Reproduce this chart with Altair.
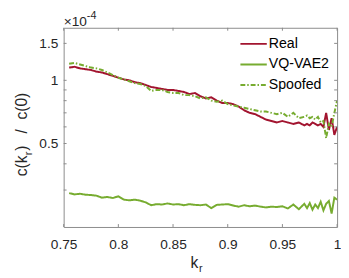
import altair as alt
import pandas as pd

k = [0.755, 0.76, 0.765, 0.77, 0.775, 0.78, 0.785, 0.79, 0.795, 0.80,
     0.805, 0.81, 0.815, 0.82, 0.825, 0.83, 0.835, 0.84, 0.845, 0.85,
     0.855, 0.86, 0.865, 0.87, 0.875, 0.88, 0.885, 0.89, 0.895, 0.90,
     0.905, 0.91, 0.915, 0.92, 0.925, 0.93, 0.935, 0.94, 0.945, 0.95,
     0.955, 0.96, 0.965, 0.97, 0.9725, 0.975, 0.9775, 0.98, 0.9825, 0.985,
     0.9875, 0.99, 0.9925, 0.995, 0.9975, 1.0]

real = [1.15, 1.16, 1.14, 1.13, 1.12, 1.10, 1.09, 1.07, 1.05, 1.03,
        1.01, 1.00, 0.98, 0.97, 0.95, 0.93, 0.92, 0.91, 0.90, 0.90,
        0.89, 0.88, 0.86, 0.87, 0.84, 0.82, 0.83, 0.80, 0.78, 0.78,
        0.77, 0.75, 0.72, 0.70, 0.69, 0.67, 0.65, 0.64, 0.63, 0.64,
        0.63, 0.62, 0.63, 0.61, 0.62, 0.61, 0.63, 0.62, 0.61, 0.62,
        0.60, 0.70, 0.58, 0.66, 0.55, 0.60]

vqvae2 = [0.290, 0.286, 0.288, 0.285, 0.284, 0.282, 0.276, 0.278, 0.275, 0.280,
          0.270, 0.268, 0.270, 0.267, 0.262, 0.254, 0.257, 0.256, 0.259, 0.256,
          0.257, 0.254, 0.257, 0.255, 0.254, 0.256, 0.246, 0.255, 0.256, 0.257,
          0.253, 0.250, 0.254, 0.251, 0.253, 0.250, 0.248, 0.250, 0.249, 0.251,
          0.245, 0.256, 0.243, 0.258, 0.246, 0.260, 0.242, 0.256, 0.246, 0.264,
          0.240, 0.258, 0.266, 0.232, 0.276, 0.270]

spoofed = [1.20, 1.21, 1.19, 1.17, 1.15, 1.14, 1.12, 1.09, 1.06, 1.03,
           1.01, 0.99, 0.97, 0.96, 0.94, 0.89, 0.90, 0.90, 0.88, 0.87,
           0.87, 0.85, 0.85, 0.84, 0.82, 0.83, 0.80, 0.79, 0.80, 0.77,
           0.76, 0.75, 0.74, 0.73, 0.72, 0.71, 0.71, 0.70, 0.69, 0.70,
           0.67, 0.70, 0.66, 0.67, 0.68, 0.66, 0.67, 0.65, 0.67, 0.63,
           0.64, 0.53, 0.62, 0.60, 0.70, 0.80]

series_names = ["Real", "VQ-VAE2", "Spoofed"]
series_colors = ["#A2142F", "#77AC30", "#77AC30"]
series_dash = [[1, 0], [1, 0], [5, 2, 1.5, 2]]

x_ticks = [0.75, 0.8, 0.85, 0.9, 0.95, 1.0]
y_labels = [0.5, 1, 1.5]
y_minor = [0.3, 0.4, 0.5, 0.6, 0.7, 0.8, 0.9, 1.0, 1.5]

rows = []
for name, vals in zip(series_names, [real, vqvae2, spoofed]):
    for kk, v in zip(k, vals):
        rows.append({"k": kk, "v": v, "series": name})
df = pd.DataFrame(rows)

W, H = 280, 204
FONT = "Liberation Sans"
TXT = "#262626"
BOX = "#8a8a8a"

xscale = alt.Scale(domain=[0.75, 1.0], nice=False, zero=False)
yscale = alt.Scale(type="log", domain=[0.2, 1.78], nice=False)

legend = alt.Legend(title=None, orient="none", legendX=180, legendY=2,
                    symbolType="stroke", symbolSize=729, symbolStrokeWidth=2,
                    labelFontSize=14.5, labelFont=FONT, labelColor="#000000",
                    labelOffset=1, rowPadding=-11.6, padding=0)

lines = alt.Chart(df).mark_line(strokeWidth=2, clip=True).encode(
    x=alt.X("k:Q", scale=xscale,
            axis=alt.Axis(values=x_ticks, format="~g", tickSize=0, labelPadding=11,
                          labelFlush=False,
                          domain=False, grid=False, title=None, labelFontSize=14,
                          labelFont=FONT, labelColor=TXT)),
    y=alt.Y("v:Q", scale=yscale,
            axis=alt.Axis(values=y_labels, format="~g", tickSize=0, labelPadding=6,
                          labelFlush=False,
                          domain=False, grid=False, title=None, labelFontSize=14,
                          labelFont=FONT, labelColor=TXT)),
    color=alt.Color("series:N", sort=series_names,
                    scale=alt.Scale(domain=series_names, range=series_colors),
                    legend=legend),
    strokeDash=alt.StrokeDash("series:N", sort=series_names,
                              scale=alt.Scale(domain=series_names, range=series_dash),
                              legend=legend),
)

xt = pd.DataFrame({"k": x_ticks})
yt = pd.DataFrame({"v": y_minor})

xtick_bot = alt.Chart(xt).mark_rule(color=BOX).encode(
    x=alt.X("k:Q", scale=xscale), y=alt.value(H), y2=alt.value(H - 3))
xtick_top = alt.Chart(xt).mark_rule(color=BOX).encode(
    x=alt.X("k:Q", scale=xscale), y=alt.value(0), y2=alt.value(3))
ytick_l = alt.Chart(yt).mark_rule(color=BOX).encode(
    y=alt.Y("v:Q", scale=yscale), x=alt.value(0), x2=alt.value(3))
ytick_r = alt.Chart(yt).mark_rule(color=BOX).encode(
    y=alt.Y("v:Q", scale=yscale), x=alt.value(W), x2=alt.value(W - 3))


def txt(s, x, y, size, align="left", angle=0, baseline="alphabetic"):
    kw = dict(text=s, font=FONT, fontSize=size, color=TXT, align=align,
              baseline=baseline)
    if angle:
        kw["angle"] = angle
    return alt.Chart(alt.Data(values=[{}])).mark_text(**kw).encode(
        x=alt.value(x), y=alt.value(y))


annots = [
    txt("c(k", -38, 152, 16, angle=270),
    txt("r", -32, 130.5, 11, angle=270),
    txt(")", -38, 126, 16, angle=270),
    txt("/", -38, 106, 16, align="center", angle=270),
    txt("c(0)", -38, 94, 16, angle=270),
    txt("k", 130, 246, 16),
    txt("r", 138.5, 250, 11),
    txt("\u00d710", 0, -2, 14),
    txt("-4", 23.7, -9, 11),
]

chart = alt.layer(lines, xtick_bot, xtick_top, ytick_l, ytick_r, *annots).properties(
    width=W, height=H,
    autosize=alt.AutoSizeParams(type="none"),
    padding={"left": 57, "top": 17, "right": 4, "bottom": 50},
).configure_view(stroke=BOX, strokeWidth=1)

chart.save("out.html", embed_options={"renderer": "svg", "actions": False})
